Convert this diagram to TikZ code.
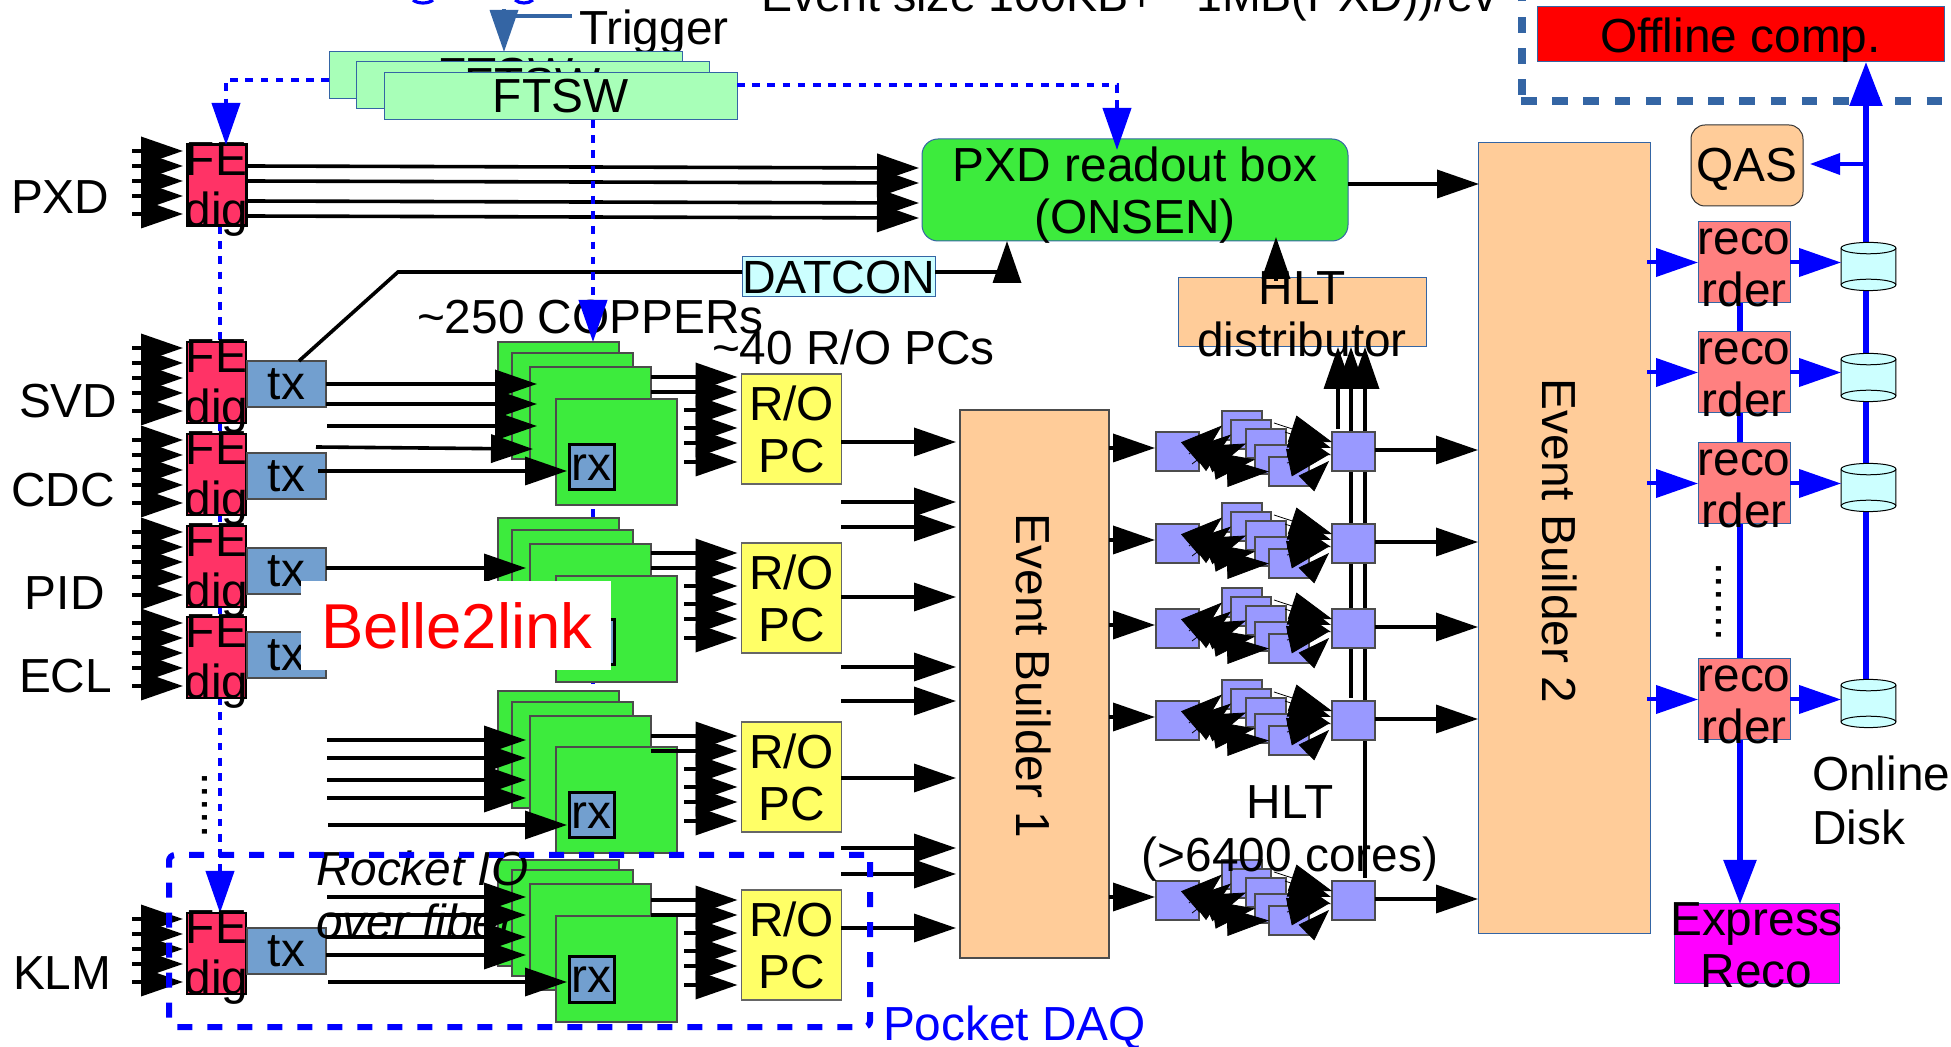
\documentclass[tikz,border=0pt]{standalone}
\usepackage{fontspec}
\setmainfont{Liberation Sans}
\usepackage{xcolor}
\usetikzlibrary{arrows.meta, calc}
\definecolor{edgeblue}{HTML}{3465A4}
\definecolor{feredc}{HTML}{FF3366}
\definecolor{txblue}{HTML}{729FCF}
\definecolor{boardgreen}{HTML}{3DEB3D}
\definecolor{ftswgreen}{HTML}{A8FFB8}
\definecolor{ebfill}{HTML}{FFCC99}
\definecolor{rofill}{HTML}{FFFF66}
\definecolor{palecyan}{HTML}{CCFFFF}
\definecolor{hltfill}{HTML}{9999FF}
\definecolor{recfill}{HTML}{FF8080}
\definecolor{expfill}{HTML}{FF00FF}
\definecolor{offred}{HTML}{FF0000}
\pgfdeclarelayer{background}
\pgfsetlayers{background,main}
% two lines of text set over a box, last baseline below its centre
\newcommand{\twotext}[3][21.8pt]{\node[anchor=base, align=center, yshift=-#1] (#2txt) at (#2.center) {#3};}

\begin{document}
\begin{tikzpicture}[
  x=0.5pt, y=-0.5pt,
  every node/.style={font=\fontsize{23.9}{26}\selectfont, inner sep=0pt, outer sep=0pt},
  lbl/.style={anchor=base west, yshift=-1pt},
  nw/.style={anchor=north west},
  box/.style={draw=edgeblue, line width=0.5pt, nw},
  ftsw/.style={box, fill=ftswgreen, minimum width=176.5pt, minimum height=23.5pt},
  febox/.style={draw=black, line width=0.6pt, nw, fill=feredc, minimum width=29.5pt, minimum height=40.5pt},
  txbox/.style={draw=black!70, line width=0.6pt, nw, fill=txblue, minimum width=39.5pt, minimum height=23pt},
  board/.style={draw=black!70, line width=0.6pt, nw, fill=boardgreen, minimum width=60.5pt, minimum height=53pt},
  rxbox/.style={draw=black, line width=1.5pt, nw, fill=txblue, minimum width=22.5pt, minimum height=22.5pt},
  robox/.style={draw=black!60, line width=0.6pt, nw, fill=rofill, minimum width=50pt, minimum height=55pt},
  hltbox/.style={draw=black!70, line width=0.6pt, nw, fill=hltfill, minimum width=21.5pt, minimum height=19.5pt},
  hltsmall/.style={draw=black!70, line width=0.6pt, nw, fill=hltfill, minimum width=20pt, minimum height=14.5pt},
  recbox/.style={box, fill=recfill, minimum width=46pt, minimum height=40.5pt},
  disk/.style={minimum width=27.5pt, minimum height=24.5pt},
  lin/.style={line width=1.8pt},
  arr/.style={lin, shorten >=2pt, -{Triangle[length=21pt,width=14pt]}},
  thinarr/.style={line width=0.4pt, -{Triangle[length=21pt,width=14pt]}},
  smallarr/.style={line width=0.4pt, -{Triangle[length=16pt,width=11pt]}},
  sync/.style={blue, line width=2pt, dash pattern=on 3.8pt off 3.8pt, -{Triangle[length=21pt,width=14pt]}},
  barr/.style={blue, line width=2pt, -{Triangle[length=21pt,width=14pt]}},
  bus/.style={blue, line width=2.8pt, -{Triangle[length=22pt,width=16pt]}},
  steelarr/.style={edgeblue, line width=1.8pt, -{Triangle[length=21pt,width=14pt]}}
]
\path[use as bounding box, clip] (0,0) rectangle (1951,1047);

% top strip
\draw[blue, line width=1.6pt] (413,0) .. controls (418,4) and (428,4) .. (433,0);
\draw[blue, line width=1.6pt] (515,0) .. controls (520,4) and (528,4) .. (533,0);
\node[lbl, font=\fontsize{23.3}{26}\selectfont] (evsize) at (761,10) {Event size 100KB+ \textasciitilde{}1MB(PXD))/ev};
\node[lbl] (trig) at (579,43) {Trigger};
\node[ftsw] (ftsw1) at (329,52) {FTSW};
\node[ftsw] (ftsw2) at (356,62) {FTSW};
\node[ftsw] (ftsw3) at (384,73) {FTSW};
\coordinate (trigbend) at (504,9);
\draw[steelarr, -] (trig.west |- 0,16) ++(-7,0) -- (516,16);
\draw[steelarr] (trigbend) -- (trigbend |- ftsw1.north);

% detectors, front end and tx
\foreach \nm/\top/\lx/\ly/\lw in {PXD/145/11/212/1.5pt, SVD/342/19/416/0.6pt, CDC/434/11/505/0.6pt, PID/526/25/608/0.6pt, ECL/617/19/691/0.6pt, KLM/913/13/987/0.6pt} {
  \node[lbl] (lab\nm) at (\lx,\ly) {\nm};
  \node[febox, line width=\lw] (fe\nm) at (187,\top) {};
  \node[anchor=base, align=center, yshift=-20.5pt, font=\fontsize{23.9}{25.5}\selectfont] (fe\nm txt) at (fe\nm.center) {FE\\dig};
  \foreach \dy in {6,21,36,51,69} {
    \coordinate (p) at (132,\top+\dy);
    \draw[arr] (p) -- (p -| fe\nm.west);
  }
}
\node[txbox] (txSVD) at (247,361) {tx};
\node[txbox] (txCDC) at (247,453) {tx};
\node[txbox] (txPID) at (247,548) {tx};
\node[txbox] (txECL) at (247,632) {tx};
\node[txbox] (txKLM) at (247,928) {tx};

% PXD path
\node[box, rounded corners=8pt, fill=boardgreen, minimum width=213pt, minimum height=51pt] (onsen) at (922,139) {};
\twotext{onsen}{PXD readout box\\(ONSEN)}
\foreach \a/\b in {166/168,181/183,201/203,216/218} {
  \draw[arr, shorten >=1.5pt] (fePXD.east |- 0,\a) -- (onsen.west |- 0,\b);
}
\node[box, fill=palecyan, minimum width=96.5pt, minimum height=20pt, font=\fontsize{23.3}{26}\selectfont] (datcon) at (742,257) {DATCON};
\coordinate (datbend) at (398,272);
\coordinate (datup) at (1007,281);
\draw[lin] (txSVD.north -| 299,0) -- (datbend) -- (datcon.west |- datbend);
\draw[lin] (datcon.east |- datbend) -- (datup |- datbend);
\draw[arr, shorten >=0pt] (datup) -- (onsen.south -| datup);

% COPPER stacks and R/O PCs
\foreach \s/\ta/\tb/\tc/\td/\rx/\ro/\fy in {1/342/353/367/399/445/374/377, 2/518/530/544/576/620/543/553, 3/691/702/716/747/793/722/736, 4/860/870/884/916/957/890/900} {
  \node[board] (cop\s a) at (498,\ta) {};
  \node[board] (cop\s b) at (512,\tb) {};
  \node[board] (cop\s c) at (530,\tc) {};
  \node[board] (cop\s d) at (556,\td) {};
  \node[rxbox] (rx\s) at (569,\rx) {rx};
  \node[robox] (ro\s) at (741.5,\ro) {};
  \twotext{ro\s}{R/O\\PC}
  \foreach \dy in {0,15} {
    \draw[arr] (cop\s c.east |- 0,\fy+\dy) -- (ro\s.west |- 0,\fy+\dy);
  }
  \foreach \dy in {33,51,66,85} {
    \coordinate (p) at (684,\fy+\dy);
    \draw[arr] (p) -- (p -| ro\s.west);
  }
}
\node[lbl, font=\fontsize{23.9}{27}\selectfont\itshape, align=left] (rocket) at (316,937) {Rocket IO\\over fiber};

% links into the stacks
\draw[arr, shorten >=-3.5pt] (txSVD.east |- 0,384) -- (cop1c.west |- 0,384);
\draw[arr, shorten >=-3.5pt] (txSVD.east |- 0,404) -- (cop1c.west |- 0,404);
\coordinate (p) at (327,426);
\draw[arr, shorten >=-3.5pt] (p) -- (p -| cop1c.west);
\coordinate (p) at (316,447);
\draw[arr, shorten >=-1.5pt] (p) -- (cop1c.west |- 0,449);
\draw[arr, shorten >=1pt] (txCDC.east |- 0,471) ++(-8,0) -- (rx1.west |- 0,471);
\draw[arr] (txPID.east |- 0,568) -- (cop2c.west |- 0,568);
\foreach \y in {740,758,780,798,897,915} {
  \coordinate (p) at (327,\y);
  \draw[arr] (p) -- (p -| cop3c.west);
}
\foreach \y in {937,955} {
  \draw[arr] (txKLM.east |- 0,\y) -- (cop4c.west |- 0,\y);
}
\coordinate (p) at (328,825);
\draw[arr, shorten >=1pt] (p) -- (p -| rx3.west);
\coordinate (p) at (328,982);
\draw[arr, shorten >=1pt] (p) -- (p -| rx4.west);

\node[lbl] (ncopper) at (417,332) {\textasciitilde{}250 COPPERs};
\node[lbl] (nropc) at (712,363) {\textasciitilde{}40 R/O PCs};

% event builders and HLT
\node[draw=black!70, line width=0.6pt, nw, fill=ebfill, minimum width=74.5pt, minimum height=274pt] (eb1) at (960,410) {};
\node[rotate=-90] (eb1txt) at (1034,676) {Event Builder 1};
\node[box, fill=ebfill, minimum width=86pt, minimum height=395.5pt] (eb2) at (1478,143) {};
\node[rotate=-90] (eb2txt) at (1560,541) {Event Builder 2};
\foreach \y in {442,597,778,928} {
  \draw[arr] (841,\y) -- (eb1.west |- 0,\y);
}
\foreach \y in {502,527,667,701,848,874} {
  \coordinate (p) at (841,\y);
  \draw[arr] (p) -- (p -| eb1.west);
}
\node[box, fill=ebfill, minimum width=124pt, minimum height=34.5pt] (hltdist) at (1178,278) {};
\twotext{hltdist}{HLT\\distributor}
\coordinate (hltup) at (1276,281);
\draw[arr, shorten >=-2pt] (hltup) -- (onsen.south -| hltup);
\draw[arr, shorten >=-0.5pt] (onsen.east |- 0,184) -- (eb2.west |- 0,184);
\coordinate (lineA) at (1338,429);
\coordinate (lineB) at (1351,698);
\coordinate (lineC) at (1365,878);
\foreach \l in {lineA,lineB,lineC} {
  \draw[arr, shorten >=0pt] (\l) -- (\l |- hltdist.south);
}
\foreach \r/\t in {a/432,b/524,c/609,d/701,e/881} {
  \node[hltbox] (hin\r) at (1156,\t) {};
  \node[hltbox] (hout\r) at (1332,\t) {};
  \foreach \n/\x/\dy in {1/1222/-21,2/1231/-12,3/1246/-3,4/1255/13,5/1269/25} {
    \node[hltsmall] (h\r\n) at (\x,\t+\dy) {};
  }
  \draw[arr, shorten >=0.5pt] (eb1.east |- 0,\t+16) -- (hin\r.west |- 0,\t+16);
  \draw[arr, shorten >=0pt] (hout\r.east |- 0,\t+18) -- (eb2.west |- 0,\t+18);
  \foreach \n/\sx/\sy in {1/-10/2.5,2/-7/12.5,3/6/8.5,4/13/14.5,5/25/21.5} {
    \draw[thinarr] ($(hin\r.east)+(\sx,\sy)$) -- (h\r\n.west);
  }
  \draw[thinarr] ($(h\r1.east)+(12,-2.5)$) -- ($(hout\r.west)+(0,-9.5)$);
  \draw[thinarr] ($(h\r2.east)+(14,-2.5)$) -- ($(hout\r.west)+(-1,-3.5)$);
  \draw[thinarr] ($(h\r3.east)+(3,-0.5)$) -- ($(hout\r.west)+(-1,3.5)$);
  \draw[thinarr] ($(h\r4.east)+(-8,3.5)$) -- ($(hout\r.west)+(-2,2.5)$);
  \draw[smallarr] ($(h\r5.east)+(-3,12.5)$) -- ($(hout\r.west)+(-3,9.5)$);
}
\node[anchor=base, align=center, font=\fontsize{23.9}{27}\selectfont] (hlttxt) at (1290,872) {HLT\\(>6400 cores)};

% storage side
\node[box, fill=offred, minimum width=203.5pt, minimum height=27.5pt] (offline) at (1537,7) {};
\node[lbl] (offlinetxt) at (1600,51) {Offline comp.};
\draw[edgeblue, line width=3.6pt, dash pattern=on 7.8pt off 7.8pt] (1522,95) -- (1522,0);
\draw[edgeblue, line width=3.6pt, dash pattern=on 7.8pt off 7.8pt] (1521,101) -- (1960,101);
\node[box, draw=black!80, rounded corners=7pt, fill=ebfill, minimum width=56pt, minimum height=40.5pt] (qas) at (1691,125) {};
\node[lbl] (qastxt) at (1696,180) {QAS};
\node[box, fill=expfill, minimum width=82.5pt, minimum height=39.5pt] (express) at (1674,904) {};
\twotext{express}{Express\\Reco}
\coordinate (recbus) at (1740,303);
\draw[bus] (recbus) -- (recbus |- express.north);
\coordinate (diskbus) at (1866,704);
\draw[bus] (diskbus) -- (diskbus |- offline.south);
\draw[barr, line width=1.8pt, -{Triangle[length=15pt,width=10.5pt]}, shorten >=3.5pt] (diskbus |- 0,164) -- (qas.east |- 0,164);
\foreach \n/\t/\cy in {1/222/266.5, 2/332/377.5, 3/443/487.5, 4/659/703.5} {
  \node[recbox] (rec\n) at (1698,\t) {};
  \twotext{rec\n}{reco\\rder}
  \node[disk] (disk\n) at (1868.5,\cy) {};
  \filldraw[fill=palecyan, line width=0.5pt] ($(disk\n.center)+(-27.4,-18.4)$) -- ++(0,36.8) arc[start angle=180, end angle=0, x radius=27.4, y radius=5.7] -- ++(0,-36.8) arc[start angle=0, end angle=-180, x radius=27.4, y radius=5.7] -- cycle;
  \draw[line width=0.5pt] ($(disk\n.center)+(-27.4,-18.4)$) arc[start angle=180, end angle=0, x radius=27.4, y radius=5.7];
  \draw[line width=0.5pt] ($(disk\n.center)+(-27.4,18.4)$) arc[start angle=180, end angle=360, x radius=27.4, y radius=5.7];
  \draw[barr, shorten <=-1.5pt] (rec\n.west -| eb2.east) -- (rec\n.west);
  \draw[barr] (rec\n.east) -- (rec\n.east -| disk\n.west);
}
\node[rotate=90, anchor=base] (dotsA) at (207,805) {.....};
\node[rotate=90, anchor=base] (dotsB) at (1721,602) {......};
\node[lbl, align=left, font=\fontsize{23.9}{27}\selectfont] (onlinedisk) at (1812,843) {Online\\Disk};

% timing lines
\coordinate (fesync) at (226,145);
\coordinate (onsensync) at (1117,150);
\coordinate (coppersync) at (593,120);
\draw[sync] (ftsw1.west |- 0,80) -| (fesync);
\draw[sync] (ftsw3.east |- 0,85) -| (onsensync);
\draw[sync] (coppersync) -- (coppersync |- cop1a.north);
\begin{pgfonlayer}{background}
  \draw[sync, -] (coppersync |- cop1a.north) -- (coppersync |- cop3a.north);
  \draw[sync] (fePXD.south -| 220,0) -- (feKLM.north -| 220,0);
\end{pgfonlayer}

% labels on top
\node[draw=blue, line width=3pt, dash pattern=on 7.5pt off 7.5pt, rounded corners=3pt, nw, minimum width=350.5pt, minimum height=86pt] (pocket) at (169,855) {};
\node[lbl, text=blue] (pockettxt) at (883,1038) {Pocket DAQ};
\node[fill=white, nw, minimum width=155pt, minimum height=44.5pt] (b2link) at (301,581) {};
\node[lbl, text=red, font=\fontsize{31.7}{34}\selectfont] (b2linktxt) at (321,647) {Belle2link};
\end{tikzpicture}
\end{document}
